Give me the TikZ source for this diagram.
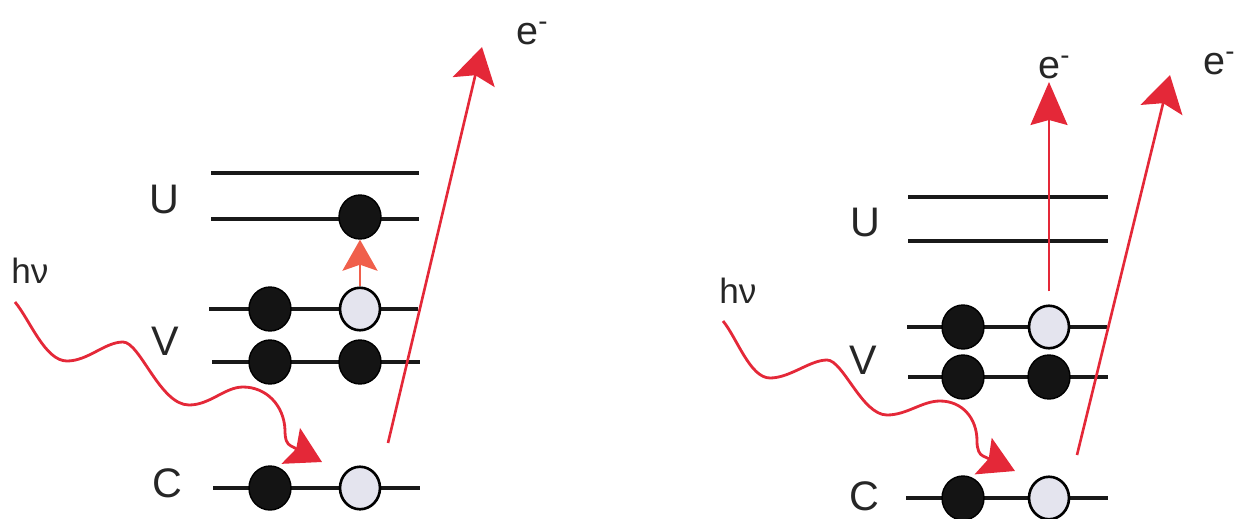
\documentclass[tikz,border=0pt]{standalone}
\usepackage{fontspec}
\setmainfont{Liberation Sans}
\usepackage{tikz}
\usetikzlibrary{arrows.meta,shapes.geometric}
\definecolor{photonred}{RGB}{228,40,56}
\definecolor{exciteorange}{RGB}{240,95,75}
\definecolor{holegray}{RGB}{228,228,238}

\begin{document}
\begin{tikzpicture}[x=0.02cm, y=-0.02cm,
        level/.style={line width=2pt, black!90},
        electron/.style={ellipse, draw=black, line width=0.8pt, fill=black!92, minimum width=0.84cm, minimum height=0.88cm, inner sep=0pt},
        hole/.style={ellipse, draw=black, line width=1.5pt, fill=holegray, minimum width=0.8cm, minimum height=0.85cm, inner sep=0pt},
        lbl/.style={inner sep=0pt, text=black!85, font=\fontsize{23.5}{28}\selectfont},
        elbl/.style={inner sep=0pt, anchor=base west, text=black!85, font=\fontsize{22.5}{26}\selectfont},
        hvlbl/.style={inner sep=0pt, anchor=base west, text=black!85, font=\fontsize{20}{24}\selectfont},
        photon/.style={color=photonred, line width=1.6pt, -{Stealth[length=0.7cm, width=0.8cm, inset=0.12cm]}},
        emit/.style={color=photonred, line width=1.5pt, -{Stealth[length=0.72cm, width=0.86cm, inset=0.14cm]}},
        excite/.style={color=exciteorange, line width=1.7pt, -{Stealth[length=0.62cm, width=0.7cm, inset=0.12cm]}},
        ionize/.style={color=photonred, line width=1.1pt, -{Stealth[length=0.86cm, width=0.74cm, inset=0.1cm]}}]

    \useasboundingbox (0,0) rectangle (1234,518);

    % left: excitation
    \draw[level] (211,173) -- (419,173);
    \draw[level] (211,219) -- (419,219);
    \draw[level] (209,309) -- (418,309);
    \draw[level] (212,362) -- (420,362);
    \draw[level] (213,488) -- (420,488);

    \node[lbl] (lU) at (164,199) {U};
    \node[lbl] (lV) at (165,341) {V};
    \node[lbl] (lC) at (167,483) {C};
    \node[hvlbl] (lhv) at (11,283) {hν};
    \node[elbl] (le) at (516,44) {e\textsuperscript{-}};

    \node[electron] (lu1) at (360,217) {};
    \node[electron] (lva1) at (270,309) {};
    \node[hole] (lva2) at (360,309) {};
    \node[electron] (lvb1) at (270,362) {};
    \node[electron] (lvb2) at (360,362) {};
    \node[electron] (lc1) at (270,488) {};
    \node[hole] (lc2) at (360,488) {};

    \coordinate (lwave) at (15,302);
    \coordinate (lbase) at (291,446);
    \coordinate (lhit) at (322,462);
    \coordinate (lout) at (388,443);
    \coordinate (ltop) at (482,47);

    \draw[photon] (lwave) .. controls (30,320) and (45,361) .. (67,361)
        .. controls (88,361) and (105,342) .. (123,342)
        .. controls (140,342) and (160,405) .. (189,405)
        .. controls (210,405) and (225,387) .. (243,387)
        .. controls (266,387) and (284,405) .. (285,430)
        .. controls (285,440) and (287,444) .. (lbase) -- (lhit);
    \draw[emit] (lout) -- (ltop);
    \draw[excite] (lva2.north) -- (lu1.south);

    % right: ionisation
    \draw[level] (908,197) -- (1108,197);
    \draw[level] (908,241) -- (1108,241);
    \draw[level] (907,327) -- (1107,327);
    \draw[level] (908,377) -- (1108,377);
    \draw[level] (906,498) -- (1108,498);

    \node[lbl] (rU) at (865,222) {U};
    \node[lbl] (rV) at (863,360) {V};
    \node[lbl] (rC) at (864,496) {C};
    \node[hvlbl] (rhv) at (719,303) {hν};
    \node[elbl] (re1) at (1038,78) {e\textsuperscript{-}};
    \node[elbl] (re2) at (1203,74) {e\textsuperscript{-}};

    \node[electron] (rva1) at (963,327) {};
    \node[hole] (rva2) at (1049,327) {};
    \node[electron] (rvb1) at (963,377) {};
    \node[electron] (rvb2) at (1049,377) {};
    \node[electron] (rc1) at (963,498) {};
    \node[hole] (rc2) at (1049,498) {};

    \coordinate (rwave) at (723,321);
    \coordinate (rbase) at (983,456);
    \coordinate (rhit) at (1015,471);
    \coordinate (rout) at (1077,455);
    \coordinate (rtop) at (1170,75);
    \coordinate (rvtop) at (1049,82);

    \draw[photon] (rwave) .. controls (737,338) and (750,378) .. (770,378)
        .. controls (790,378) and (810,360) .. (827,360)
        .. controls (843,360) and (862,415) .. (887,415)
        .. controls (907,415) and (922,401) .. (940,401)
        .. controls (962,401) and (977,418) .. (977,441)
        .. controls (977,450) and (979.5,454.5) .. (rbase) -- (rhit);
    \draw[emit] (rout) -- (rtop);
    \draw[ionize] ([yshift=0.26cm]rva2.north) -- (rvtop);

\end{tikzpicture}
\end{document}
